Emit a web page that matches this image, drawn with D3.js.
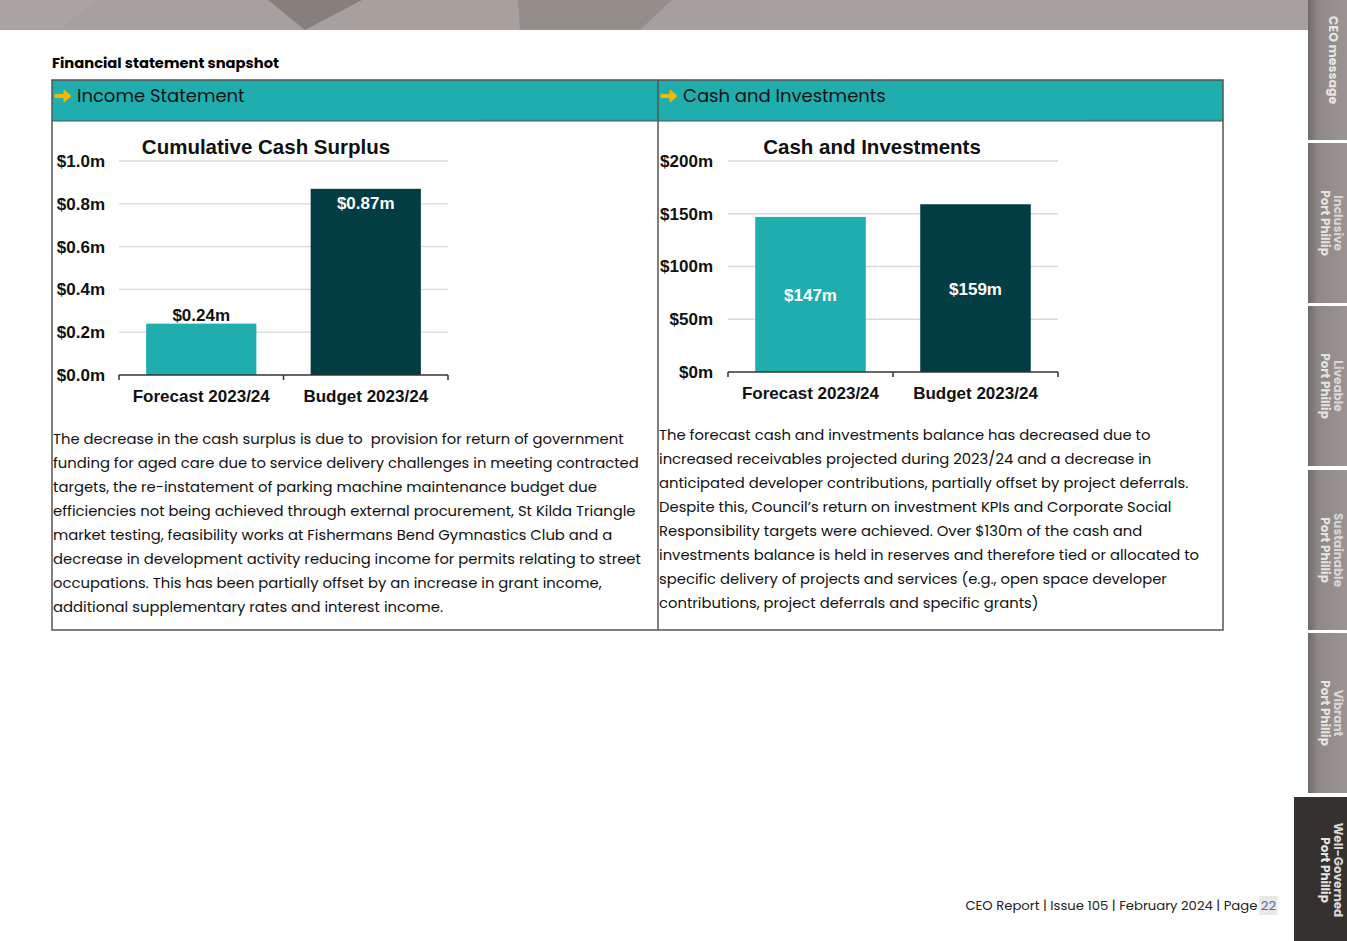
<!DOCTYPE html>
<html><head><meta charset="utf-8">
<script src="https://cdn.jsdelivr.net/npm/d3@7"></script>
<style>
body{margin:0;background:#fff;}
svg{display:block;}
</style></head>
<body>
<svg id="c" width="1347" height="941"></svg>
<script>
// ---------- DATA ----------
const categories = ["Forecast 2023/24", "Budget 2023/24"];
const surplusValues = [0.24, 0.87];           // $m
const surplusLabels = ["$0.24m", "$0.87m"];
const surplusTicks = [0, 0.2, 0.4, 0.6, 0.8, 1.0];
const cashValues = [147, 159];                // $m
const cashLabels = ["$147m", "$159m"];
const cashTicks = [0, 50, 100, 150, 200];
const barColors = ["#20adad", "#033d44"];
const pageTitle = "Financial statement snapshot";
const headers = ["Income Statement", "Cash and Investments"];
const chartTitles = ["Cumulative Cash Surplus", "Cash and Investments"];
const leftText = [
 "The decrease in the cash surplus is due to  provision for return of government",
 "funding for aged care due to service delivery challenges in meeting contracted",
 "targets, the re-instatement of parking machine maintenance budget due",
 "efficiencies not being achieved through external procurement, St Kilda Triangle",
 "market testing, feasibility works at Fishermans Bend Gymnastics Club and a",
 "decrease in development activity reducing income for permits relating to street",
 "occupations. This has been partially offset by an increase in grant income,",
 "additional supplementary rates and interest income."
];
const rightText = [
 "The forecast cash and investments balance has decreased due to",
 "increased receivables projected during 2023/24 and a decrease in",
 "anticipated developer contributions, partially offset by project deferrals.",
 "Despite this, Council\u2019s return on investment KPIs and Corporate Social",
 "Responsibility targets were achieved. Over $130m of the cash and",
 "investments balance is held in reserves and therefore tied or allocated to",
 "specific delivery of projects and services (e.g., open space developer",
 "contributions, project deferrals and specific grants)"
];
const tabs = [["CEO message"], ["Inclusive","Port Phillip"], ["Liveable","Port Phillip"],
              ["Sustainable","Port Phillip"], ["Vibrant","Port Phillip"], ["Well-Governed","Port Phillip"]];
const footerText = "CEO Report | Issue 105 | February 2024 | Page ";
const pageNum = "22";

// ---------- DRAW ----------
const svg = d3.select("#c");
const bodyFont = "'Poppins','Noto Sans','Open Sans',sans-serif";
const chartFont = "'Liberation Sans',Arial,sans-serif";

// top banner
svg.append("rect").attr("x",0).attr("y",0).attr("width",1310).attr("height",30).attr("fill","#a6a19e");
svg.append("polygon").attr("points","0,0 95,0 60,30 0,30").attr("fill","#aaa5a2");
svg.append("polygon").attr("points","268,0 362,0 305,30").attr("fill","#86807d");
svg.append("polygon").attr("points","362,0 520,0 518,30 330,30").attr("fill","#a9a09e");
svg.append("polygon").attr("points","518,0 672,0 640,30 520,30").attr("fill","#948e8b");
svg.append("polygon").attr("points","672,0 760,0 760,30 640,30").attr("fill","#a5a09d");

// right tab strip
const tabY = [[0,140],[143,303],[306,466],[470,630],[633,793]];
const grad = svg.append("defs").append("linearGradient").attr("id","tg").attr("x1","0").attr("x2","1");
grad.append("stop").attr("offset","0").attr("stop-color","#6f6a67");
grad.append("stop").attr("offset","0.25").attr("stop-color","#8e8986");
grad.append("stop").attr("offset","1").attr("stop-color","#9a9592");
svg.append("rect").attr("x",1308).attr("y",0).attr("width",39).attr("height",797).attr("fill","#fff");
tabY.forEach(([a,b]) => {
  svg.append("rect").attr("x",1308).attr("y",a).attr("width",39).attr("height",b-a).attr("fill","url(#tg)");
});
svg.append("rect").attr("x",1294).attr("y",797).attr("width",53).attr("height",144).attr("fill","#35312e");
const tabCenters = [60,223,386,550,713,870];
tabs.forEach((t,i) => {
  const g = svg.append("g").attr("transform",`translate(1333,${tabCenters[i]}) rotate(90)`);
  if (t.length === 1) {
    g.append("text").attr("text-anchor","middle").attr("y",4).attr("font-family",bodyFont)
      .attr("font-weight","bold").attr("font-size",12.5).attr("fill","#e6e3e1").text(t[0]);
  } else {
    g.append("text").attr("text-anchor","middle").attr("y",-1).attr("font-family",bodyFont)
      .attr("font-weight","bold").attr("font-size",12).attr("fill","#d9d5d2").text(t[0]);
    g.append("text").attr("text-anchor","middle").attr("y",12).attr("font-family",bodyFont)
      .attr("font-weight","bold").attr("font-size",12).attr("fill","#e6e3e1").text(t[1]);
  }
});

// page title
svg.append("text").attr("x",52).attr("y",68).attr("font-family",bodyFont).attr("font-weight","bold")
  .attr("font-size",14.7).attr("fill","#000").text(pageTitle);

// table
const T = {x0:52, x1:1223, xm:658, y0:80, yh:121, y1:630};
svg.append("rect").attr("x",T.x0).attr("y",T.y0).attr("width",T.x1-T.x0).attr("height",T.yh-T.y0).attr("fill","#20adad");
svg.append("line").attr("x1",480).attr("x2",T.xm).attr("y1",T.yh-1).attr("y2",T.yh-1).attr("stroke","#3b8d8d").attr("stroke-width",1);
svg.append("line").attr("x1",1090).attr("x2",T.x1).attr("y1",T.yh-1).attr("y2",T.yh-1).attr("stroke","#3b8d8d").attr("stroke-width",1);
svg.append("rect").attr("x",T.x0).attr("y",T.y0).attr("width",T.x1-T.x0).attr("height",T.y1-T.y0)
  .attr("fill","none").attr("stroke","#555").attr("stroke-width",1.5);
svg.append("line").attr("x1",T.x0).attr("x2",T.x1).attr("y1",T.yh).attr("y2",T.yh).attr("stroke","#555").attr("stroke-width",1.2);
svg.append("line").attr("x1",T.xm).attr("x2",T.xm).attr("y1",T.y0).attr("y2",T.y1).attr("stroke","#555").attr("stroke-width",1.5);

[[55,headers[0]],[661,headers[1]]].forEach(([x,h]) => {
  const g = svg.append("g").attr("transform",`translate(${x},96)`);
  g.append("path").attr("d","M0,-1.6 H9 V-6 L16,0 L9,6 V1.6 H0 Z").attr("fill","#f5b800")
    .attr("stroke","#f5b800").attr("stroke-width",1).attr("stroke-linejoin","round");
  g.append("text").attr("x",22).attr("y",6).attr("font-family",bodyFont).attr("font-size",18).attr("fill","#111").text(h);
});

// chart function
function barChart(cfg) {
  const g = svg.append("g");
  const x = d3.scaleBand().domain(categories).range([cfg.x0, cfg.x1]).paddingInner(0.33).paddingOuter(0.165);
  const y = d3.scaleLinear().domain([0, cfg.max]).range([cfg.yb, cfg.yt]);
  // grid
  g.selectAll(".grid").data(cfg.ticks.filter(t=>t>0)).join("line")
    .attr("x1",cfg.x0).attr("x2",cfg.x1).attr("y1",d=>y(d)).attr("y2",d=>y(d))
    .attr("stroke","#d9d9d9").attr("stroke-width",1.3);
  // y axis labels
  const ya = d3.axisLeft(y).tickValues(cfg.ticks).tickFormat(cfg.fmt).tickSize(0).tickPadding(cfg.pad);
  const yg = g.append("g").attr("transform",`translate(${cfg.x0},0)`).call(ya);
  yg.select(".domain").remove();
  yg.selectAll("text").attr("font-family",chartFont).attr("font-weight","bold").attr("font-size",17).attr("fill","#111");
  // bars
  g.selectAll(".bar").data(cfg.values).join("rect")
    .attr("x",(d,i)=>x(categories[i])).attr("width",x.bandwidth())
    .attr("y",d=>y(d)).attr("height",d=>y(0)-y(d)).attr("fill",(d,i)=>barColors[i]);
  // x axis
  const xa = d3.axisBottom(x).tickSize(0).tickPadding(15);
  const xg = g.append("g").attr("transform",`translate(0,${cfg.yb})`).call(xa);
  xg.select(".domain").attr("stroke","#333").attr("stroke-width",1.5).attr("d",`M${cfg.x0},0H${cfg.x1}`);
  xg.selectAll("text").attr("font-family",chartFont).attr("font-weight","bold").attr("font-size",17).attr("fill","#111");
  const bw = (cfg.x1-cfg.x0)/categories.length;
  [0,1,2].forEach(k => xg.append("line").attr("x1",cfg.x0+k*bw).attr("x2",cfg.x0+k*bw).attr("y1",0).attr("y2",5).attr("stroke","#333").attr("stroke-width",1.5));
  // title
  g.append("text").attr("x",cfg.tx).attr("y",cfg.yt-7).attr("text-anchor","middle").attr("font-family",chartFont)
    .attr("font-weight","bold").attr("font-size",20.5).attr("fill","#111").text(cfg.title);
  // value labels
  cfg.values.forEach((v,i) => {
    const cx = x(categories[i]) + x.bandwidth()/2;
    let ty, col;
    const mode = cfg.labelMode[i];
    if (mode === "above") { ty = y(v)-3; col = "#111"; }
    else if (mode === "insideTop") { ty = y(v)+20; col = "#fff"; }
    else { ty = (y(v)+y(0))/2 + 7; col = "#fff"; }
    g.append("text").attr("x",cx).attr("y",ty).attr("text-anchor","middle").attr("font-family",chartFont)
      .attr("font-weight","bold").attr("font-size",17).attr("fill",col).text(cfg.labels[i]);
  });
}

barChart({x0:119, x1:448, yb:375, yt:161, max:1.0, ticks:surplusTicks, fmt:d=>"$"+d.toFixed(1)+"m", pad:14,
  values:surplusValues, labels:surplusLabels, labelMode:["above","insideTop"], title:chartTitles[0], tx:266});
barChart({x0:728, x1:1058, yb:372, yt:161, max:200, ticks:cashTicks, fmt:d=>"$"+d+"m", pad:15,
  values:cashValues, labels:cashLabels, labelMode:["mid","mid"], title:chartTitles[1], tx:872});

// paragraphs
function para(lines, x, y0) {
  const t = svg.append("text").attr("font-family",bodyFont).attr("font-size",14.8).attr("fill","#111")
    .style("white-space","pre");
  lines.forEach((l,i) => t.append("tspan").attr("x",x).attr("y",y0+i*24).text(l));
}
para(leftText, 53, 444);
para(rightText, 659, 440);

// footer
const fg = svg.append("g");
const hl = fg.append("rect").attr("fill","#e8e8e8");
const ft = fg.append("text").attr("x",1276).attr("y",910).attr("text-anchor","end").attr("font-family",bodyFont)
  .attr("font-size",13.2).attr("fill","#222");
ft.append("tspan").text(footerText);
ft.append("tspan").attr("fill","#4a6fb0").text(pageNum);
const bb = ft.node().getBBox();
hl.attr("x",bb.x+bb.width-17).attr("y",896).attr("width",18).attr("height",19);
</script>
</body></html>
